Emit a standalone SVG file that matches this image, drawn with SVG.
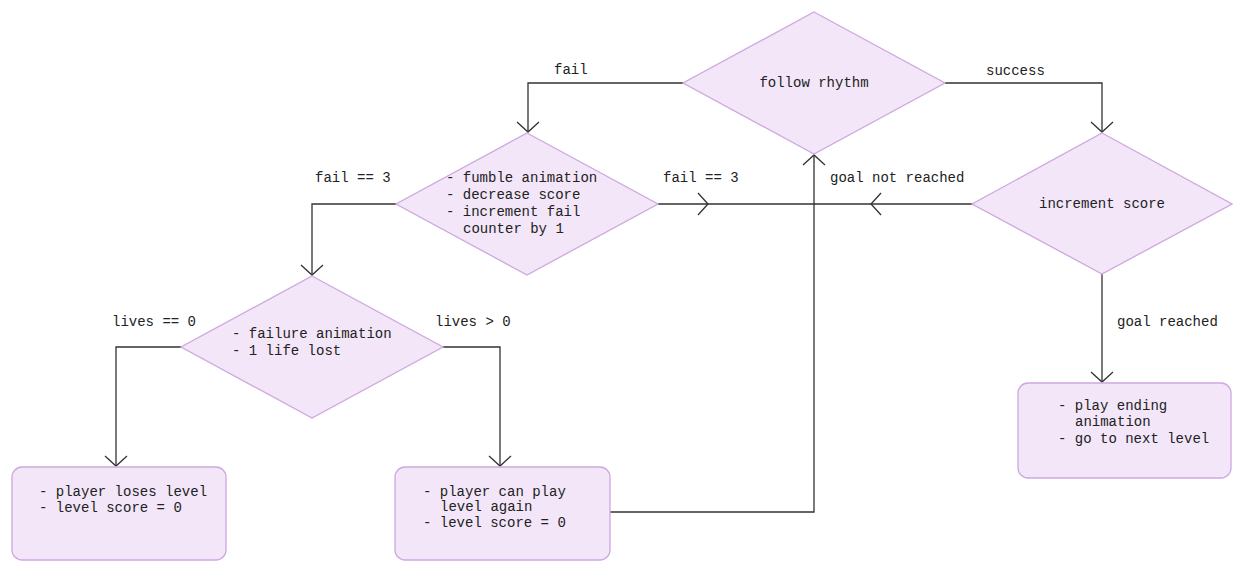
<svg xmlns="http://www.w3.org/2000/svg" width="1233" height="561" viewBox="0 0 1233 561">
<style>
.shape{fill:#f2e6f8;stroke:#cda8df;stroke-width:1.3}
.t{font-family:"Liberation Mono","DejaVu Sans Mono",monospace;font-size:14px;fill:#222}
.c{fill:none;stroke:#333;stroke-width:1.3}
</style>
<defs>
<marker id="arr" markerUnits="userSpaceOnUse" markerWidth="24" markerHeight="26" refX="0" refY="0" viewBox="-12 -13 24 26" orient="auto" overflow="visible">
<path d="M-10,-11 L0,0 L-10,11" fill="none" stroke="#333" stroke-width="1.3"/>
</marker>
</defs>
<rect width="1233" height="561" fill="#ffffff"/>
<g id="connectors">
<path class="c" d="M683,83 H528 V132" marker-end="url(#arr)"/>
<path class="c" d="M945,83 H1102 V132" marker-end="url(#arr)"/>
<path class="c" d="M396,204 H312 V275" marker-end="url(#arr)"/>
<path class="c" d="M658,204 H814 V155" marker-end="url(#arr)"/>
<path class="c" d="M698,193 L708,204 L698,215"/>
<path class="c" d="M972,204 H814"/>
<path class="c" d="M881,193 L871,204 L881,215"/>
<path class="c" d="M181,347 H116 V466" marker-end="url(#arr)"/>
<path class="c" d="M443,347 H500 V466" marker-end="url(#arr)"/>
<path class="c" d="M1102,274 V382" marker-end="url(#arr)"/>
<path class="c" d="M610,512 H814 V204"/>
<text class="t" x="554" y="74">fail</text>
<text class="t" x="986" y="75">success</text>
<text class="t" x="315" y="182">fail == 3</text>
<text class="t" x="663" y="182">fail == 3</text>
<text class="t" x="830" y="182">goal not reached</text>
<text class="t" x="112" y="326">lives == 0</text>
<text class="t" x="435" y="326">lives &gt; 0</text>
<text class="t" x="1117" y="326">goal reached</text>
</g>
<g id="follow-rhythm">
<polygon class="shape" points="814,12 945,83 814,154 683,83"/>
<text class="t" x="814" y="87" text-anchor="middle">follow rhythm</text>
</g>
<g id="fumble">
<polygon class="shape" points="527,133 658,204 527,275 396,204"/>
<text class="t"><tspan x="446" y="182">- fumble animation</tspan><tspan x="446" y="199">- decrease score</tspan><tspan x="446" y="216">- increment fail</tspan><tspan x="463" y="233">counter by 1</tspan></text>
</g>
<g id="increment-score">
<polygon class="shape" points="1102,133 1232,204 1102,274 972,204"/>
<text class="t" x="1102" y="208" text-anchor="middle">increment score</text>
</g>
<g id="failure">
<polygon class="shape" points="312,276 443,347 312,418 181,347"/>
<text class="t"><tspan x="232" y="338">- failure animation</tspan><tspan x="232" y="355">- 1 life lost</tspan></text>
</g>
<g id="loses-level">
<rect class="shape" x="12" y="467" width="214" height="93" rx="10"/>
<text class="t"><tspan x="39" y="496">- player loses level</tspan><tspan x="39" y="512">- level score = 0</tspan></text>
</g>
<g id="play-again">
<rect class="shape" x="395" y="467" width="215" height="93" rx="10"/>
<text class="t"><tspan x="423" y="496">- player can play</tspan><tspan x="440" y="511">level again</tspan><tspan x="423" y="527">- level score = 0</tspan></text>
</g>
<g id="ending">
<rect class="shape" x="1018" y="383" width="213" height="95" rx="10"/>
<text class="t"><tspan x="1058" y="410">- play ending</tspan><tspan x="1075" y="426">animation</tspan><tspan x="1058" y="443">- go to next level</tspan></text>
</g>
</svg>
